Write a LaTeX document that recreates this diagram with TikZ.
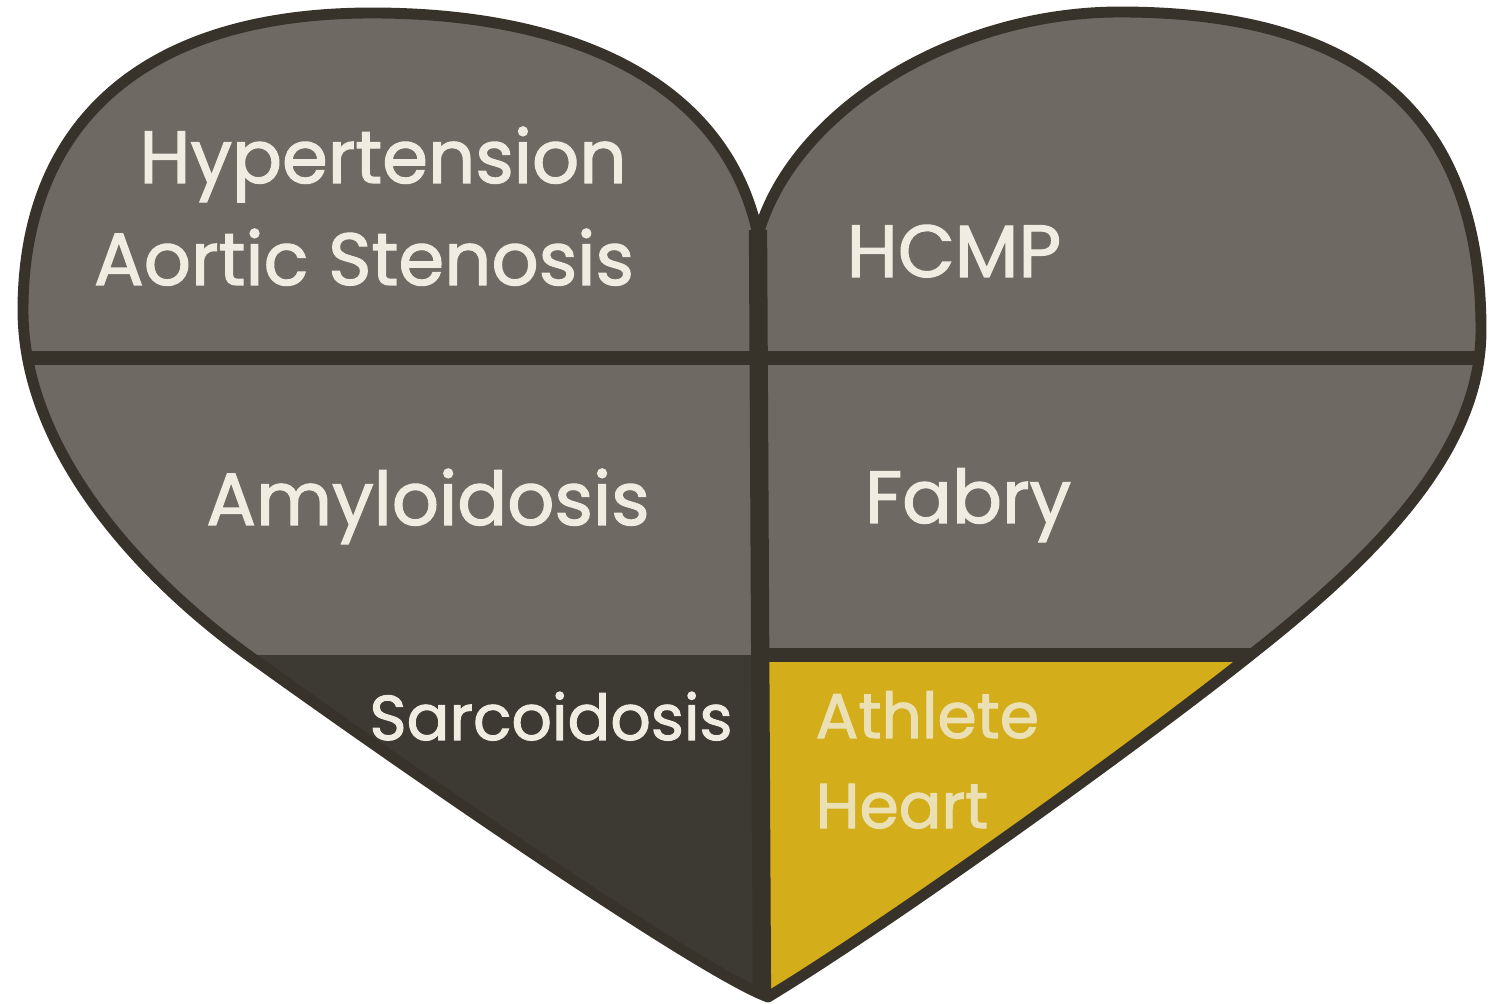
\documentclass[tikz,border=0pt]{standalone}
\usepackage{fontspec}
\setmainfont{Poppins}
\newfontfamily\heartfont{Poppins}[FakeBold=1.6]
\usepackage{tikz}
\usetikzlibrary{positioning}
\definecolor{Rim}{HTML}{38332A}
\definecolor{Slate}{HTML}{6E6A63}
\definecolor{Char}{HTML}{3D3933}
\definecolor{Mustard}{HTML}{D3AE1A}
\definecolor{Chalk}{HTML}{F0ECE2}
\definecolor{Cream}{HTML}{EAE0B4}
\tikzset{
  rim/.style={draw=Rim,line width=3.1pt,line join=round},
  divider/.style={draw=Rim,line width=4pt},
  spine/.style={draw=Rim,line width=5.2pt},
  lobetext/.style={text=Chalk,inner sep=0pt,anchor=base,font=\heartfont\fontsize{21}{25}\selectfont},
  lobesmall/.style={lobetext,font=\heartfont\fontsize{18}{22}\selectfont},
  athletetext/.style={lobesmall,text=Cream,anchor=base west}
}
\newcommand{\heartoutline}{(758,235) .. controls (726,82) and (572,13) .. (372,13)
  .. controls (134,13) and (23,132) .. (23,310)
  .. controls (23,452) and (143,580) .. (252,658)
  .. controls (402,766) and (700,972) .. (768,997)
  .. controls (898,918) and (1150,736) .. (1257,650)
  .. controls (1396,540) and (1481,440) .. (1481,330)
  .. controls (1481,112) and (1358,12) .. (1120,12)
  .. controls (952,12) and (792,112) .. (758,235) -- cycle}

\begin{document}
\begin{tikzpicture}[x=0.01cm,y=-0.01cm]
  \useasboundingbox (0,0) rectangle (1506,1004);
  \fill[Slate] \heartoutline;
  \begin{scope}
    \clip \heartoutline;
    \fill[Char] (0,655) rectangle (761,1004);
    \fill[Mustard] (761,655) rectangle (1506,1004);
    \draw[divider] (0,358) -- (1506,358);
    \draw[divider] (761,655) -- (1506,655);
    \draw[spine] (758,230) -- (762,1004);
  \end{scope}
  \draw[rim] \heartoutline;

  \node[lobetext] (hyp) at (383,183) {Hypertension};
  \node[lobetext] (aortic) at (364,285) {Aortic Stenosis};
  \node[lobetext] (hcmp) at (954,277) {HCMP};
  \node[lobetext] (amyl) at (428,525) {Amyloidosis};
  \node[lobetext] (fabry) at (968,523) {Fabry};
  \node[lobesmall] (sarc) at (551,740) {Sarcoidosis};
  \node[athletetext] (athlete) at (815,738) {Athlete};
  \node[athletetext,below=9mm of athlete.base west,anchor=base west] (heart) {Heart};
\end{tikzpicture}
\end{document}
